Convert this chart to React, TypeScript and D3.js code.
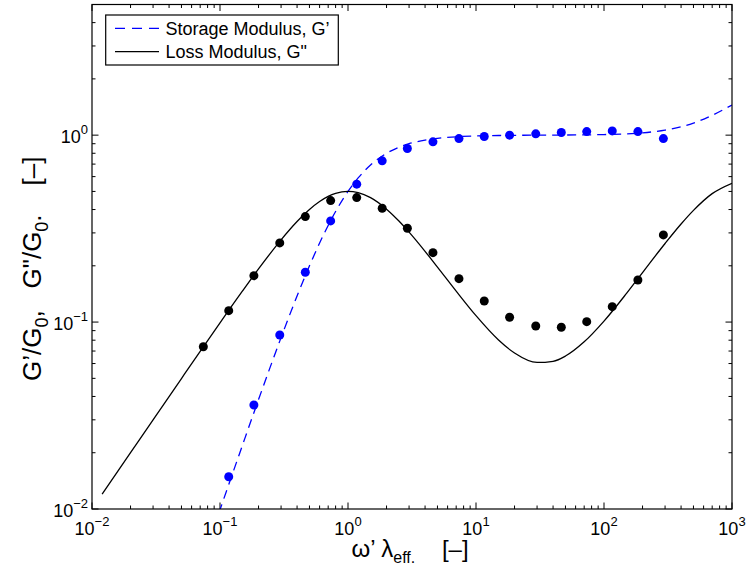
import React from 'react';
import * as d3 from 'd3';

// Model curves
const lossOmega = [0.012, 0.02, 0.03, 0.05, 0.07, 0.1, 0.15, 0.2, 0.3, 0.4, 0.5, 0.6, 0.7, 0.8, 1, 1.2, 1.5, 2, 2.5, 3, 4, 5, 7, 10, 15, 20, 30, 40, 50, 70, 100, 150, 200, 300, 400, 500, 700, 1000];
const lossCurve = [0.0120, 0.0200, 0.0300, 0.0499, 0.0697, 0.0991, 0.1468, 0.1925, 0.2755, 0.3452, 0.4005, 0.4417, 0.4705, 0.4885, 0.5009, 0.4929, 0.4629, 0.4018, 0.3471, 0.3028, 0.2390, 0.1969, 0.1464, 0.1082, 0.0802, 0.0683, 0.0608, 0.0617, 0.0658, 0.0784, 0.1012, 0.1424, 0.1840, 0.2633, 0.3346, 0.3958, 0.4865, 0.5529];

const storageOmega = [0.09, 0.1, 0.12, 0.15, 0.2, 0.3, 0.4, 0.5, 0.6, 0.7, 0.8, 1, 1.2, 1.5, 2, 2.5, 3, 4, 5, 7, 10, 15, 20, 30, 50, 70, 100, 150, 200, 300, 400, 500, 700, 1000];
const storageCurve = [0.0080, 0.0099, 0.0142, 0.0220, 0.0385, 0.0826, 0.1379, 0.2000, 0.2647, 0.3289, 0.3902, 0.5000, 0.5902, 0.6923, 0.8000, 0.8621, 0.9000, 0.9412, 0.9615, 0.9800, 0.9902, 0.9957, 0.9978, 0.9996, 1.0015, 1.0035, 1.0073, 1.0166, 1.0292, 1.0636, 1.1083, 1.1605, 1.2767, 1.4498];

// Measured points
const pointOmega = [0.0741, 0.117, 0.184, 0.293, 0.464, 0.732, 1.17, 1.85, 2.91, 4.61, 7.36, 11.6, 18.3, 29.3, 46.4, 73.3, 116, 184, 291];
const lossPoints = [0.0738, 0.1151, 0.1772, 0.2651, 0.3666, 0.4467, 0.4634, 0.4066, 0.3178, 0.2351, 0.1707, 0.1297, 0.1061, 0.0953, 0.0938, 0.1005, 0.1209, 0.168, 0.2926];
const storagePoints: (number | null)[] = [null, 0.01488, 0.036, 0.0853, 0.1848, 0.3477, 0.5466, 0.7285, 0.8479, 0.9206, 0.9589, 0.9829, 1.0, 1.016, 1.033, 1.045, 1.054, 1.045, 0.9589];

const xMajor = [-2, -1, 0, 1, 2, 3];
const yMajor = [-2, -1, 0];
const legendLabels = ["Storage Modulus, G\u2019", "Loss Modulus, G\""];

const W = 746, H = 571;
const L = 92, R = 732, T = 4.5, B = 509;
const FONT = "'Liberation Sans', Arial, Helvetica, sans-serif";
const BLUE = '#0000ff';

export default function App() {
  const x = d3.scaleLog().domain([0.01, 1000]).range([L, R]);
  const y = d3.scaleLog().domain([0.01, 5]).range([B, T]);

  const xMinor: number[] = [];
  for (let d = -2; d < 3; d++) for (let k = 2; k <= 9; k++) xMinor.push(k * Math.pow(10, d));
  const yMinor: number[] = [];
  for (let d = -2; d < 1; d++) for (let k = 2; k <= 9; k++) { const v = k * Math.pow(10, d); if (v < 5) yMinor.push(v); }

  const line = d3.line<[number, number]>().x(d => x(d[0])).y(d => y(d[1])).curve(d3.curveMonotoneX);
  const lossPath = line(lossOmega.map((o, i) => [o, lossCurve[i]]) as [number, number][]) || '';
  const storagePath = line(storageOmega.map((o, i) => [o, storageCurve[i]]) as [number, number][]) || '';

  const maj = 6.5, mnr = 3.5;

  return (
    <svg width={W} height={H} style={{ position: 'absolute', left: 0, top: 0, background: '#fff' }} fontFamily={FONT}>
      <rect x={0} y={0} width={W} height={H} fill="#fff" />
      <defs>
        <clipPath id="plotclip"><rect x={L} y={T} width={R - L} height={B - T} /></clipPath>
      </defs>
      {/* ticks */}
      <g stroke="#000" strokeWidth={1}>
        {xMajor.map(e => { const px = x(Math.pow(10, e)); return (
          <g key={'xm' + e}>
            <line x1={px} x2={px} y1={B} y2={B - maj} />
            <line x1={px} x2={px} y1={T} y2={T + maj} />
          </g>); })}
        {xMinor.map(v => { const px = x(v); return (
          <g key={'xn' + v}>
            <line x1={px} x2={px} y1={B} y2={B - mnr} />
            <line x1={px} x2={px} y1={T} y2={T + mnr} />
          </g>); })}
        {yMajor.map(e => { const py = y(Math.pow(10, e)); return (
          <g key={'ym' + e}>
            <line x1={L} x2={L + maj} y1={py} y2={py} />
            <line x1={R} x2={R - maj} y1={py} y2={py} />
          </g>); })}
        {yMinor.map(v => { const py = y(v); return (
          <g key={'yn' + v}>
            <line x1={L} x2={L + mnr} y1={py} y2={py} />
            <line x1={R} x2={R - mnr} y1={py} y2={py} />
          </g>); })}
      </g>
      {/* curves */}
      <g clipPath="url(#plotclip)" fill="none">
        <path d={storagePath} stroke={BLUE} strokeWidth={1.3} strokeDasharray="9,6" />
        <path d={lossPath} stroke="#000" strokeWidth={1.3} />
      </g>
      {/* points */}
      <g clipPath="url(#plotclip)">
        {pointOmega.map((o, i) => storagePoints[i] == null ? null : (
          <circle key={'s' + i} cx={x(o)} cy={y(storagePoints[i] as number)} r={4.5} fill={BLUE} />
        ))}
        {pointOmega.map((o, i) => (
          <circle key={'l' + i} cx={x(o)} cy={y(lossPoints[i])} r={4.5} fill="#000" />
        ))}
      </g>
      {/* axes box */}
      <rect x={L} y={T} width={R - L} height={B - T} fill="none" stroke="#000" strokeWidth={1.2} />
      {/* x tick labels */}
      {xMajor.map(e => (
        <text key={'xl' + e} x={x(Math.pow(10, e))} y={535} textAnchor="middle" fontSize={18} fill="#000">
          10<tspan fontSize={13} dy={-9}>{e < 0 ? '\u2212' + Math.abs(e) : String(e)}</tspan>
        </text>
      ))}
      {/* y tick labels */}
      {yMajor.map(e => (
        <text key={'yl' + e} x={88} y={y(Math.pow(10, e)) + 7.5} textAnchor="end" fontSize={18} fill="#000">
          10<tspan fontSize={13} dy={-9}>{e < 0 ? '\u2212' + Math.abs(e) : String(e)}</tspan>
        </text>
      ))}
      {/* x axis title */}
      <text x={(L + R) / 2 - 2} y={557} textAnchor="middle" fontSize={24} fill="#000" style={{ whiteSpace: 'pre' }}>
        {'\u03c9\u2019 \u03bb'}<tspan fontSize={16} dy={6}>{'eff.'}</tspan><tspan dy={-6}>{'    [\u2013]'}</tspan>
      </text>
      {/* y axis title */}
      <text transform={`translate(41,${(T + B) / 2 + 12}) rotate(-90)`} textAnchor="middle" fontSize={26} fill="#000" style={{ whiteSpace: 'pre' }}>
        {'G\u2019/G'}<tspan fontSize={18} dy={7}>0</tspan><tspan dy={-7}>{',   G"/G'}</tspan><tspan fontSize={18} dy={7}>0</tspan><tspan dy={-7}>{'.    [\u2013]'}</tspan>
      </text>
      {/* legend */}
      <g>
        <rect x={105.7} y={15} width={232.6} height={50} fill="#fff" stroke="#000" strokeWidth={1.2} />
        <line x1={115} x2={159} y1={28.3} y2={28.3} stroke={BLUE} strokeWidth={1.3} strokeDasharray="10,7" />
        <text x={165.5} y={34.5} fontSize={18} fill="#000">{legendLabels[0]}</text>
        <line x1={115} x2={159} y1={51.7} y2={51.7} stroke="#000" strokeWidth={1.3} />
        <text x={165.5} y={58} fontSize={18} fill="#000">{legendLabels[1]}</text>
      </g>
    </svg>
  );
}
